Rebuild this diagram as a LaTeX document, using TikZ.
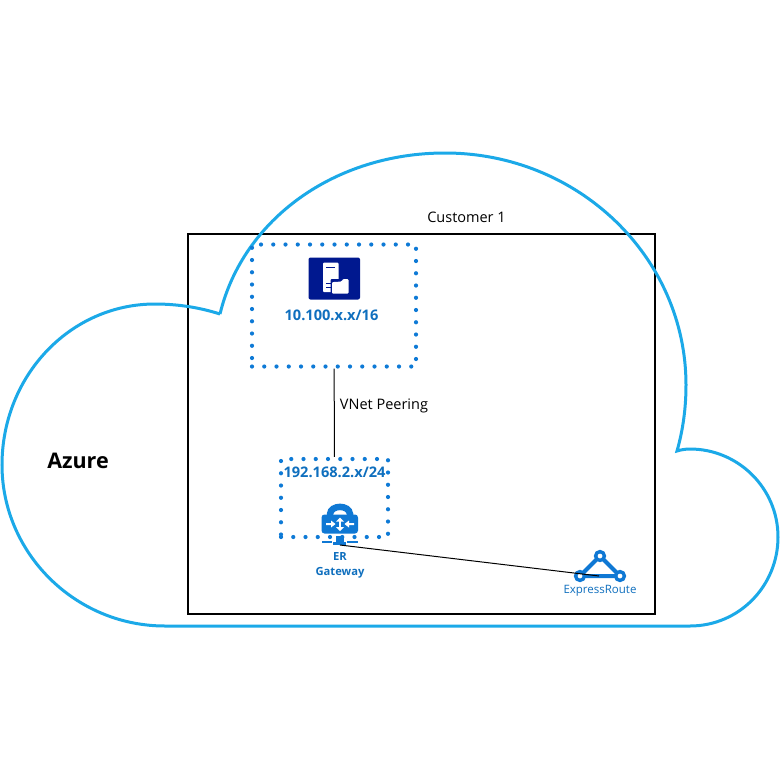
\documentclass[tikz,border=0pt]{standalone}
\usepackage{fontspec}
\setmainfont{Open Sans}
\definecolor{cloudblue}{HTML}{1BA9E8}
\definecolor{dotblue}{HTML}{0E7AD6}
\definecolor{textblue}{HTML}{0F6FBE}
\definecolor{iconnavy}{HTML}{00188F}
\definecolor{iconblue}{HTML}{0F78D4}
\tikzset{
  vnetbox/.style={draw=dotblue,line width=4.2pt,line cap=round,dash pattern=on 0pt off 12.25pt,inner sep=0pt,rectangle},
  cloudline/.style={draw=cloudblue,line width=3pt},
  blacktext/.style={text=black,font=\fontsize{14.5}{17}\selectfont,inner sep=0pt},
  bluetext/.style={text=textblue,font=\bfseries\fontsize{14.6}{17}\selectfont,inner sep=0pt,align=center},
  link/.style={draw=black,line width=1pt},
}
\begin{document}
\begin{tikzpicture}[x=1pt,y=-1pt]
\useasboundingbox (0,0) rectangle (780,780);
\fill[white] (0,0) rectangle (780,780);
% customer box
\node[draw=black,line width=2pt,minimum width=467pt,minimum height=380pt,inner sep=0pt] (customer) at (421.5,424) {};
% cloud
\draw[cloudline] (220,314) .. controls (198,307) and (176,304) .. (155,304)
  .. controls (70,304) and (2,376) .. (2,465)
  .. controls (2,553) and (75,626) .. (165,626)
  -- (690,626)
  .. controls (739,626) and (778,586) .. (778,537)
  .. controls (778,488) and (738,449) .. (690,449)
  .. controls (685,449) and (680,450) .. (677,451)
  .. controls (683,430) and (686,408) .. (686,385)
  .. controls (686,257) and (578,153) .. (445,153)
  .. controls (335,153) and (243,219) .. (220,314);
% vnets
\node[vnetbox,minimum width=164pt,minimum height=122pt] (vnetA) at (334,305.5) {};
\node[vnetbox,minimum width=107pt,minimum height=78pt] (vnetB) at (334.5,498) {};
\draw[link] (vnetA) -- (vnetB);
% server icon
\fill[iconnavy,rounded corners=2pt] (308.5,257.5) rectangle (360,299.5);
\fill[white,rounded corners=1pt] (323,262.5) rectangle (338.5,292);
\fill[iconnavy] (326,266.5) rectangle (335,267.6);
\fill[iconnavy] (326,283) rectangle (332,284);
\fill[iconnavy] (326,287) rectangle (332,288);
\fill[iconnavy,rounded corners=1pt] (330.5,279) rectangle (350,295);
\fill[white,rounded corners=1pt] (332,282) -- (332,293.5) -- (348.5,293.5) -- (348.5,279) -- (343,279) -- (341.5,281.5) -- (335,282) -- cycle;
% lock icon
\draw[iconblue,line width=6.5pt] (330,517) -- (330,514) .. controls (331,504.5) and (349,504.5) .. (350,514) -- (350,517);
\fill[iconblue,rounded corners=3pt] (321.5,514.5) rectangle (358,533.5);
\fill[white] (338.6,520) rectangle (341.4,529);
\fill[white] (340,517.5) -- (344,521.5) -- (336,521.5) -- cycle;
\fill[white] (340,531) -- (344,527) -- (336,527) -- cycle;
\fill[white] (335.5,524) -- (331,520.5) -- (331,523) -- (326,523) -- (326,525) -- (331,525) -- (331,527.5) -- cycle;
\fill[white] (344.5,524) -- (349,520.5) -- (349,523) -- (354,523) -- (354,525) -- (349,525) -- (349,527.5) -- cycle;
\fill[iconblue] (322,541) rectangle (332,543);
\fill[iconblue] (347,541) rectangle (358,543);
\fill[iconblue] (336,536) rectangle (344,544);
\fill[iconblue] (333,541.5) rectangle (346,545);
% expressroute icon
\coordinate (gw) at (340,545);
\coordinate (er) at (599,576);
\draw[iconblue,line width=4pt] (580,576) -- (600,556) -- (620,576) -- cycle;
\foreach \p in {(580,576),(600,556),(620,576)}{
  \draw[iconblue,line width=3.4pt,fill=white] \p circle (4.4pt);
}
\draw[link] (gw) -- (er);
% labels
\node[bluetext] (lblA) at (331.5,315.5) {10.100.x.x/16};
\node[bluetext] (lblB) at (334.5,472.5) {192.168.2.x/24};
\node[bluetext,font=\bfseries\fontsize{11.2}{15}\selectfont] (lblGw) at (340,565.5) {ER\\Gateway};
\node[text=textblue,font=\fontsize{11.5}{14}\selectfont,inner sep=0pt] (lblEr) at (600,591) {ExpressRoute};
\node[blacktext] (lblPeer) at (384,406) {VNet Peering};
\node[blacktext] (lblCust) at (466.5,217.5) {Customer 1};
\node[text=black,font=\bfseries\fontsize{21.5}{26}\selectfont,inner sep=0pt] (lblAz) at (78,460.5) {Azure};
\end{tikzpicture}
\end{document}
